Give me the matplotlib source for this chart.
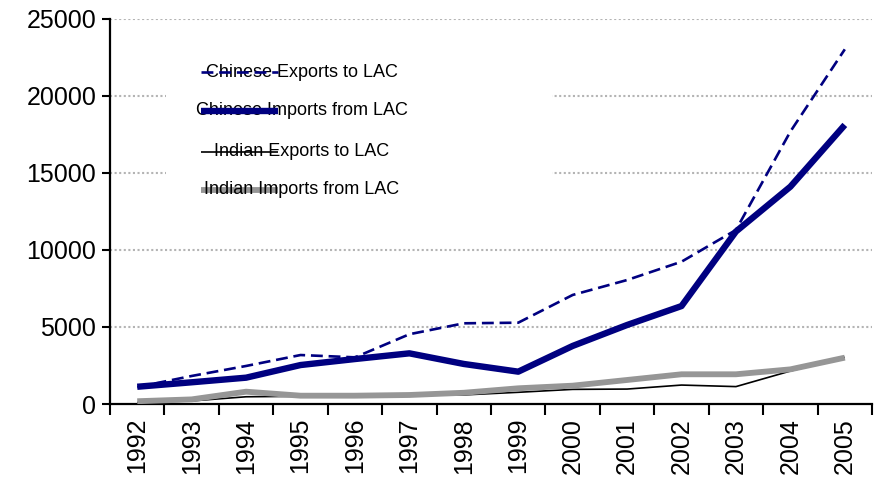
import numpy as np
import matplotlib.pyplot as plt
from matplotlib.patches import Rectangle
from matplotlib.lines import Line2D

plt.rcParams['font.family'] = ['Liberation Sans', 'DejaVu Sans']

years = [1992, 1993, 1994, 1995, 1996, 1997, 1998, 1999, 2000, 2001, 2002, 2003, 2004, 2005]
chn_exports = [1100, 1820, 2470, 3180, 3030, 4530, 5240, 5280, 7080, 8050, 9240, 11300, 17690, 23030]
chn_imports = [1120, 1410, 1710, 2530, 2920, 3290, 2600, 2100, 3770, 5130, 6360, 11200, 14110, 18120]
ind_exports = [100, 200, 470, 500, 550, 650, 590, 760, 950, 970, 1230, 1130, 2140, 3030]
ind_imports = [180, 300, 800, 540, 540, 585, 730, 1020, 1190, 1560, 1930, 1930, 2250, 3010]
yticks = [0, 5000, 10000, 15000, 20000, 25000]

series = [
    ("Chinese Exports to LAC", chn_exports, dict(color='#000080', lw=1.9, ls=(0, (4.5, 2.2)))),
    ("Chinese Imports from LAC", chn_imports, dict(color='#000080', lw=4.6)),
    ("Indian Exports to LAC", ind_exports, dict(color='black', lw=1.2)),
    ("Indian Imports from LAC", ind_imports, dict(color='#969696', lw=4.2)),
]

fig = plt.figure(figsize=(8.81, 4.78), dpi=100)
ax = fig.add_axes([0.1249, 0.1548, 0.8649, 0.8055])

x = np.arange(len(years))
for name, vals, st in series:
    ax.plot(x, vals, solid_capstyle='butt', dash_capstyle='butt', zorder=3, **st)

ax.set_xlim(-0.5, len(years) - 0.5)
ax.set_ylim(0, 25000)
ax.set_yticks(yticks)
ax.set_yticklabels([str(v) for v in yticks], fontsize=18)
ax.set_xticks(x)
ax.set_xticklabels([str(y) for y in years], rotation=90, fontsize=18)
ax.set_xticks(np.arange(len(years) + 1) - 0.5, minor=True)
ax.tick_params(axis='x', which='major', length=0, pad=10)
ax.tick_params(axis='x', which='minor', length=8, width=1.5, direction='out')
ax.tick_params(axis='y', length=6, width=1.5, direction='out', pad=4)

for s in ['top', 'right']:
    ax.spines[s].set_visible(False)
for s in ['left', 'bottom']:
    ax.spines[s].set_linewidth(1.6)

for v in yticks[1:]:
    ax.axhline(v, color='#b4b4b4', lw=1.5, ls=(0, (1, 1.2)), zorder=1)

# legend: white box with samples drawn across the label text
ax.add_patch(Rectangle((0.073, 0.52), 0.507, 0.42, transform=ax.transAxes,
                       facecolor='white', edgecolor='none', zorder=2))
ys = [0.862, 0.761, 0.655, 0.556]
for (name, vals, st), yy in zip(series, ys):
    ax.text(0.252, yy, name, transform=ax.transAxes, ha='center', va='center',
            fontsize=13, zorder=4)
    z = 3.5 if 'Indian Imports' in name else 5
    ax.add_line(Line2D([0.119, 0.220], [yy, yy], transform=ax.transAxes,
                       solid_capstyle='butt', zorder=z, **st))

fig.savefig('out.png', dpi=100)
